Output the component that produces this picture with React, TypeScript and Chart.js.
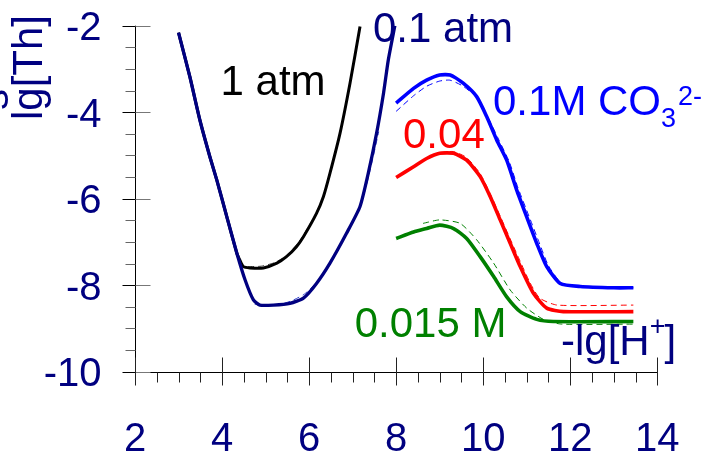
import React, { useEffect, useRef } from "react";
import { Chart, registerables } from "chart.js";

Chart.register(...registerables);

const FONT = "'Liberation Sans', Arial, Helvetica, sans-serif";
const NAVY = "#000080";
const BLUE = "#0000ff";
const RED = "#ff0000";
const GREEN = "#008000";
const BLACK = "#000000";

// axis ranges / tick steps
const X_MIN = 2;
const X_MAX = 14;
const X_STEP = 2;
const Y_MIN = -10;
const Y_MAX = -2;
const Y_STEP = 2;
const MINOR_STEP = 0.5;

// 0.1 atm (navy)
const atm01X = [3.0, 3.26, 3.49, 3.72, 3.88, 4.11, 4.34, 4.53, 4.72, 4.87, 5.18, 5.56, 5.87, 6.17, 6.48, 6.86, 7.17, 7.36, 7.55, 7.71, 7.82, 7.97];
const atm01Y = [-2.16, -3.18, -4.18, -5.03, -5.57, -6.42, -7.26, -7.88, -8.34, -8.46, -8.46, -8.42, -8.30, -7.96, -7.49, -6.80, -6.18, -5.41, -4.49, -3.56, -2.79, -2.0];
const atm01DashX = [4.75, 5.0, 5.3, 5.6, 5.9, 6.2, 6.5, 6.88, 7.2, 7.4, 7.6];
const atm01DashY = [-8.44, -8.47, -8.45, -8.36, -8.20, -7.90, -7.45, -6.78, -6.10, -5.35, -4.45];

// 1 atm (black)
const atm1X = [3.0, 3.26, 3.49, 3.72, 3.88, 4.11, 4.34, 4.41, 4.49, 4.64, 4.95, 5.26, 5.48, 5.71, 5.87, 6.17, 6.33, 6.48, 6.71, 6.94, 7.17];
const atm1Y = [-2.16, -3.18, -4.18, -5.03, -5.57, -6.42, -7.26, -7.42, -7.57, -7.60, -7.60, -7.49, -7.34, -7.11, -6.88, -6.34, -5.95, -5.41, -4.49, -3.33, -2.02];
const atm1DashX = [4.6, 4.9, 5.2, 5.5, 5.8, 6.1];
const atm1DashY = [-7.57, -7.56, -7.48, -7.30, -6.95, -6.45];

// 0.1M CO3 2- (blue)
const co01X = [8.0, 8.4, 8.7, 9.0, 9.24, 9.54, 9.85, 10.08, 10.31, 10.54, 10.77, 11.0, 11.23, 11.46, 11.77, 12.23, 13.0, 13.45];
const co01Y = [-3.79, -3.45, -3.26, -3.14, -3.14, -3.33, -3.64, -4.10, -4.64, -5.11, -5.80, -6.42, -7.03, -7.57, -7.96, -8.03, -8.06, -8.06];
const co01DashX = [8.0, 8.4, 8.7, 9.0, 9.24, 9.54, 9.85, 10.1, 10.35, 10.6, 10.8, 11.05, 11.3, 11.5, 11.8, 12.3, 13.45];
const co01DashY = [-3.98, -3.62, -3.40, -3.28, -3.26, -3.40, -3.66, -4.10, -4.62, -5.15, -5.75, -6.40, -7.05, -7.55, -7.95, -8.05, -8.06];

// 0.04 (red)
const co004X = [8.0, 8.4, 8.7, 9.0, 9.32, 9.62, 9.93, 10.16, 10.39, 10.62, 10.85, 11.15, 11.46, 11.84, 13.45];
const co004Y = [-5.51, -5.26, -5.07, -4.95, -4.95, -5.11, -5.49, -5.95, -6.49, -7.03, -7.57, -8.18, -8.53, -8.61, -8.61];
const co004DashX = [9.0, 9.32, 9.62, 9.93, 10.16, 10.39, 10.62, 10.85, 11.08, 11.3, 11.7, 13.45];
const co004DashY = [-4.93, -4.91, -5.05, -5.42, -5.88, -6.40, -6.93, -7.45, -7.95, -8.30, -8.46, -8.46];

// 0.015 M (green)
const co0015X = [8.0, 8.4, 8.7, 9.0, 9.32, 9.62, 9.93, 10.24, 10.54, 10.85, 11.23, 11.61, 13.45];
const co0015Y = [-6.92, -6.77, -6.69, -6.61, -6.69, -6.92, -7.34, -7.80, -8.27, -8.61, -8.79, -8.84, -8.84];
const co0015DashX = [8.62, 9.0, 9.47, 9.85, 10.24, 10.62, 11.0, 11.4, 11.8, 13.45];
const co0015DashY = [-6.57, -6.49, -6.57, -6.95, -7.49, -8.11, -8.53, -8.80, -8.90, -8.90];

const pts = (xs: number[], ys: number[]) => xs.map((x, i) => ({ x, y: ys[i] }));

const solid = (label: string, xs: number[], ys: number[], color: string, width: number, order: number) => ({
  label,
  data: pts(xs, ys),
  borderColor: color,
  borderWidth: width,
  pointRadius: 0,
  showLine: true,
  fill: false,
  tension: 0.2,
  order,
});

const dashed = (label: string, xs: number[], ys: number[], color: string) => ({
  label,
  data: pts(xs, ys),
  borderColor: color,
  borderWidth: 1,
  borderDash: [6, 4],
  pointRadius: 0,
  showLine: true,
  fill: false,
  tension: 0.2,
  order: 20,
});

const decor = {
  id: "decor",
  afterDatasetsDraw(chart: any) {
    const { ctx, chartArea: a, scales } = chart;
    const xs = scales.x;
    const ys = scales.y;
    const L = Math.round(a.left) + 0.5;
    const B = Math.round(a.bottom) + 0.5;
    ctx.save();
    ctx.lineWidth = 1;
    // axis lines
    ctx.strokeStyle = "#000";
    ctx.beginPath();
    ctx.moveTo(L, a.top);
    ctx.lineTo(L, a.bottom);
    ctx.moveTo(a.left, B);
    ctx.lineTo(a.right, B);
    ctx.stroke();
    // y ticks
    for (let v = Y_MIN; v <= Y_MAX + 1e-9; v += MINOR_STEP) {
      const p = Math.round(ys.getPixelForValue(v)) + 0.5;
      const major = Math.abs(v / Y_STEP - Math.round(v / Y_STEP)) < 1e-6;
      if (major) {
        ctx.strokeStyle = "#000";
        ctx.beginPath();
        ctx.moveTo(L - 13, p);
        ctx.lineTo(L, p);
        ctx.stroke();
        ctx.strokeStyle = "#777";
        ctx.beginPath();
        ctx.moveTo(L, p);
        ctx.lineTo(L + 15, p);
        ctx.stroke();
      } else {
        ctx.strokeStyle = "#666";
        ctx.beginPath();
        ctx.moveTo(L - 10, p);
        ctx.lineTo(L, p);
        ctx.stroke();
      }
    }
    // x ticks
    for (let v = X_MIN; v <= X_MAX + 1e-9; v += MINOR_STEP) {
      const p = Math.round(xs.getPixelForValue(v)) + 0.5;
      const major = Math.abs(v / X_STEP - Math.round(v / X_STEP)) < 1e-6;
      ctx.strokeStyle = "#222";
      ctx.beginPath();
      if (major) {
        ctx.moveTo(p, B - 15);
        ctx.lineTo(p, B + 13);
      } else {
        ctx.moveTo(p, B);
        ctx.lineTo(p, B + 10);
      }
      ctx.stroke();
    }

    // tick labels (from the library's generated ticks)
    const tickFont = `40px ${FONT}`;
    ctx.font = tickFont;
    ctx.fillStyle = NAVY;
    ctx.textBaseline = "alphabetic";
    ctx.textAlign = "center";
    xs.ticks.forEach((t: any) => {
      ctx.fillText(String(t.value), xs.getPixelForValue(t.value), 451);
    });
    ctx.textAlign = "right";
    ys.ticks.forEach((t: any) => {
      ctx.fillText(String(t.value), 101.5, ys.getPixelForValue(t.value) + 14.5);
    });

    // annotations
    ctx.textAlign = "left";
    ctx.textBaseline = "alphabetic";
    const big = `42px ${FONT}`;
    const small = `27px ${FONT}`;
    const put = (s: string, x: number, y: number, font: string, color: string) => {
      ctx.font = font;
      ctx.fillStyle = color;
      ctx.fillText(s, x, y);
      return x + ctx.measureText(s).width;
    };
    put("1 atm", 220.5, 95, big, BLACK);
    put("0.1 atm", 373, 41.7, big, NAVY);
    let x = put("0.1M CO", 493, 115, big, BLUE);
    const x3 = put("3", x, 127, small, BLUE);
    put("2-", x3 + 2, 105, small, BLUE);
    put("0.04", 403, 147.5, big, RED);
    put("0.015 M", 354.7, 336.7, big, GREEN);
    x = put("-lg[H", 561, 355, big, NAVY);
    x = put("+", x, 335, small, NAVY);
    put("]", x - 1, 355, big, NAVY);

    // rotated y title
    ctx.save();
    ctx.translate(42, 120);
    ctx.rotate(-Math.PI / 2);
    ctx.font = big;
    ctx.fillStyle = NAVY;
    ctx.fillText("lg[Th]", 0, 0);
    ctx.restore();
    ctx.save();
    ctx.translate(8, 110);
    ctx.rotate(-Math.PI / 2);
    ctx.font = big;
    ctx.fillStyle = NAVY;
    ctx.fillText("s", 0, 0);
    ctx.restore();

    ctx.restore();
  },
};

export default function App() {
  const ref = useRef<HTMLCanvasElement>(null);
  useEffect(() => {
    if (!ref.current) return;
    Chart.defaults.font.family = FONT;
    const chart = new Chart(ref.current, {
      type: "scatter",
      data: {
        datasets: [
          solid("0.1 atm", atm01X, atm01Y, NAVY, 3.3, 0),
          solid("1 atm", atm1X, atm1Y, BLACK, 3.0, 1),
          solid("0.1M CO3 2-", co01X, co01Y, BLUE, 3.6, 2),
          solid("0.04", co004X, co004Y, RED, 3.6, 3),
          solid("0.015 M", co0015X, co0015Y, GREEN, 3.6, 4),
          dashed("0.1 atm (2)", atm01DashX, atm01DashY, "#3344cc"),
          dashed("1 atm (2)", atm1DashX, atm1DashY, "#444"),
          dashed("0.1M (2)", co01DashX, co01DashY, BLUE),
          dashed("0.04 (2)", co004DashX, co004DashY, RED),
          dashed("0.015 M (2)", co0015DashX, co0015DashY, GREEN),
        ] as any,
      },
      options: {
        animation: false,
        responsive: false,
        devicePixelRatio: 1,
        layout: { padding: { top: 25.7, right: 49.7, left: 0, bottom: 0 } },
        plugins: { legend: { display: false }, tooltip: { enabled: false } },
        scales: {
          x: {
            type: "linear",
            min: X_MIN,
            max: X_MAX,
            grid: { display: false, drawTicks: false },
            border: { display: false },
            ticks: { display: false, stepSize: X_STEP },
            afterFit: (s: any) => {
              s.height = 455 - 371.7;
            },
          },
          y: {
            type: "linear",
            min: Y_MIN,
            max: Y_MAX,
            grid: { display: false, drawTicks: false },
            border: { display: false },
            ticks: { display: false, stepSize: Y_STEP },
            afterFit: (s: any) => {
              s.width = 135;
            },
          },
        },
      },
      plugins: [decor],
    });
    return () => chart.destroy();
  }, []);
  return (
    <div style={{ position: "fixed", left: 0, top: 0, width: 707, height: 455, background: "#fff" }}>
      <canvas ref={ref} width={707} height={455} style={{ display: "block" }} />
    </div>
  );
}
